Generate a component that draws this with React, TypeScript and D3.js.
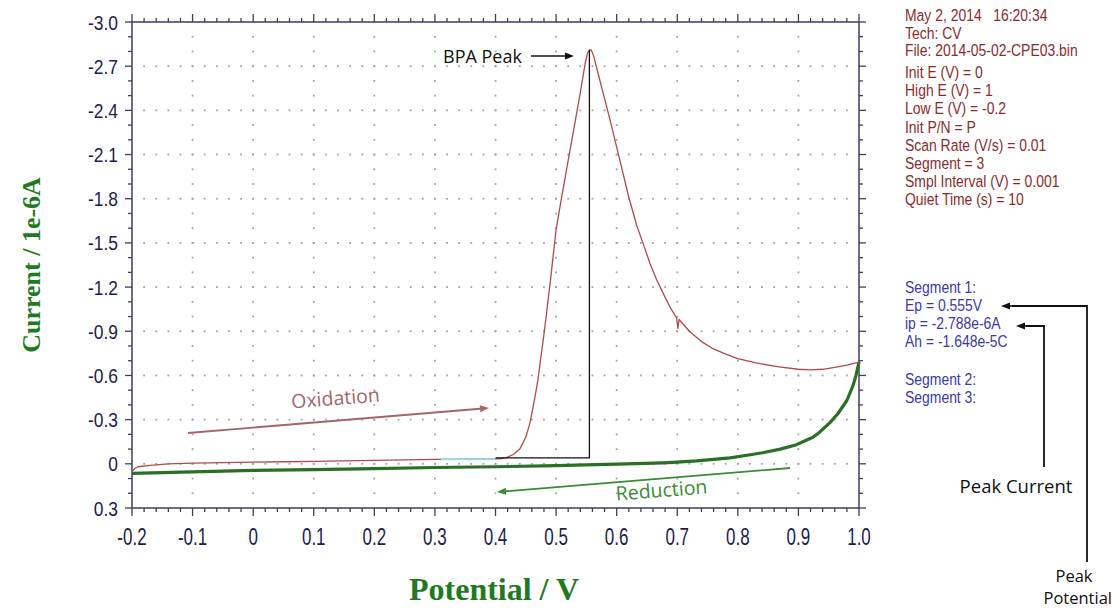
import React from 'react';
import * as d3 from 'd3';

// cyclic voltammogram, potential in V, current in 1e-6 A (axis inverted: negative up)
const oxidationScan = [
  [-0.2, 0.05], [-0.195, 0.03], [-0.19, 0.02], [-0.17, 0.01], [-0.14, 0.0], [-0.1, -0.005],
  [-0.05, -0.008], [0, -0.012], [0.05, -0.014], [0.1, -0.016], [0.15, -0.02], [0.2, -0.024],
  [0.25, -0.027], [0.3, -0.03], [0.35, -0.032], [0.4, -0.034], [0.41, -0.036], [0.42, -0.045],
  [0.43, -0.065], [0.44, -0.1], [0.45, -0.18], [0.457, -0.28], [0.465, -0.45], [0.47, -0.57],
  [0.48, -0.88], [0.49, -1.22], [0.5, -1.59], [0.51, -1.83], [0.52, -2.06], [0.53, -2.29],
  [0.54, -2.52], [0.548, -2.72], [0.552, -2.79], [0.555, -2.81], [0.558, -2.81], [0.562, -2.77],
  [0.57, -2.64], [0.58, -2.48], [0.59, -2.32], [0.6, -2.15], [0.61, -1.98], [0.62, -1.81],
  [0.633, -1.62], [0.645, -1.48], [0.655, -1.36], [0.666, -1.25], [0.68, -1.13], [0.69, -1.05],
  [0.699, -0.99], [0.701, -0.92], [0.703, -0.98], [0.72, -0.9], [0.74, -0.83], [0.76, -0.78],
  [0.78, -0.745], [0.8, -0.715], [0.83, -0.685], [0.865, -0.66], [0.9, -0.642], [0.92, -0.638],
  [0.94, -0.642], [0.96, -0.655], [0.98, -0.67], [1.0, -0.69]
];

const reductionScan = [
  [1.0, -0.69], [0.995, -0.6], [0.99, -0.53], [0.98, -0.43], [0.965, -0.34], [0.952, -0.28],
  [0.935, -0.215], [0.924, -0.18], [0.91, -0.155], [0.897, -0.13], [0.87, -0.1], [0.841, -0.075],
  [0.81, -0.055], [0.787, -0.04], [0.76, -0.03], [0.732, -0.02], [0.7, -0.012], [0.676, -0.007],
  [0.6, 0.002], [0.5, 0.012], [0.4, 0.02], [0.3, 0.025], [0.2, 0.033], [0.1, 0.04], [0, 0.045],
  [-0.1, 0.055], [-0.2, 0.065]
];

const baselineFit = [[0.31, -0.03], [0.4, -0.03]];
const peakMarker = [[0.4, -0.04], [0.555, -0.04], [0.555, -2.81]];

const xTickValues = [-0.2, -0.1, 0, 0.1, 0.2, 0.3, 0.4, 0.5, 0.6, 0.7, 0.8, 0.9, 1.0];
const xTickLabels = ['-0.2', '-0.1', '0', '0.1', '0.2', '0.3', '0.4', '0.5', '0.6', '0.7', '0.8', '0.9', '1.0'];
const yTickValues = [-3.0, -2.7, -2.4, -2.1, -1.8, -1.5, -1.2, -0.9, -0.6, -0.3, 0, 0.3];
const yTickLabels = ['-3.0', '-2.7', '-2.4', '-2.1', '-1.8', '-1.5', '-1.2', '-0.9', '-0.6', '-0.3', '0', '0.3'];

const headerLines = ['May 2, 2014   16:20:34', 'Tech: CV', 'File: 2014-05-02-CPE03.bin'];
const paramLines = [
  'Init E (V) = 0', 'High E (V) = 1', 'Low E (V) = -0.2', 'Init P/N = P',
  'Scan Rate (V/s) = 0.01', 'Segment = 3', 'Smpl Interval (V) = 0.001', 'Quiet Time (s) = 10'
];
const segment1Lines = ['Segment 1:', 'Ep = 0.555V', 'ip = -2.788e-6A', 'Ah = -1.648e-5C'];
const segmentOtherLines = ['Segment 2:', 'Segment 3:'];

const W = 1115;
const H = 611;
const left = 132, right = 859, top = 22, bottom = 508;

const x = d3.scaleLinear().domain([-0.2, 1.0]).range([left, right]);
const y = d3.scaleLinear().domain([-3.0, 0.3]).range([top, bottom]);

const minorX = d3.range(-10, 51).map(i => i / 50);
const minorY = d3.range(-30, 4).map(i => i / 10);

const axisColor = '#3e3e5e';
const labelColor = '#1d1d4d';
const sans = '"Liberation Sans", Arial, sans-serif';
const note = '"Open Sans", sans-serif';

const line = d3.line<number[]>().x(d => x(d[0])).y(d => y(d[1]));

const Arrow = ({ x1, y1, x2, y2, color, w = 1.6 }: any) => {
  const a = Math.atan2(y2 - y1, x2 - x1);
  const len = 9, half = 3.5;
  const bx = x2 - len * Math.cos(a), by = y2 - len * Math.sin(a);
  const p = [
    [x2, y2],
    [bx + half * Math.sin(a), by - half * Math.cos(a)],
    [bx - half * Math.sin(a), by + half * Math.cos(a)]
  ];
  return (
    <g>
      <line x1={x1} y1={y1} x2={bx} y2={by} stroke={color} strokeWidth={w} />
      <polygon points={p.map(q => q.join(',')).join(' ')} fill={color} />
    </g>
  );
};

export default function App() {
  const innerX = xTickValues.slice(1, -1);
  const innerY = yTickValues.slice(1, -1);
  return (
    <svg width={W} height={H} style={{ position: 'absolute', left: 0, top: 0, background: '#fff' }}>
      {/* dotted grid */}
      <g fill="#a2a2a2">
        {innerY.map(v => minorX.filter(m => m > -0.19 && m < 0.99).map(m => (
          <rect key={`h${v}_${m}`} x={x(m) - 0.9} y={y(v) - 0.9} width={1.8} height={1.8} />
        )))}
        {innerX.map(v => minorY.filter(m => m > -2.95 && m < 0.25).map(m => (
          <rect key={`v${v}_${m}`} x={x(v) - 0.9} y={y(m) - 0.9} width={1.8} height={1.8} />
        )))}
      </g>

      {/* frame */}
      <rect x={left} y={top} width={right - left} height={bottom - top} fill="none" stroke={axisColor} strokeWidth={1.5} />
      <g stroke={axisColor} strokeWidth={1.3}>
        {minorX.map((m, i) => {
          const major = i % 5 === 0;
          const l = major ? 8 : 4;
          return (
            <g key={`xt${i}`}>
              <line x1={x(m)} x2={x(m)} y1={bottom} y2={bottom + l} />
              <line x1={x(m)} x2={x(m)} y1={top} y2={top - l} />
            </g>
          );
        })}
        {minorY.map((m, i) => {
          const major = i % 3 === 0;
          const l = major ? 7 : 4;
          return (
            <g key={`yt${i}`}>
              <line x1={left} x2={left - l} y1={y(m)} y2={y(m)} />
              <line x1={right} x2={right + l} y1={y(m)} y2={y(m)} />
            </g>
          );
        })}
      </g>

      {/* tick labels (condensed like the instrument's export) */}
      <g fill={labelColor} fontFamily={sans}>
        {xTickValues.map((v, i) => (
          <text key={`xl${i}`} transform={`translate(${x(v)},${bottom + 37}) scale(0.74,1)`}
            textAnchor="middle" fontSize={23}>{xTickLabels[i]}</text>
        ))}
        {yTickValues.map((v, i) => (
          <text key={`yl${i}`} transform={`translate(${left - 14},${y(v)}) scale(0.83,1)`}
            dy="0.36em" textAnchor="end" fontSize={21}>{yTickLabels[i]}</text>
        ))}
      </g>

      {/* axis titles */}
      <text x={494} y={600} textAnchor="middle" fill="#1f7a1f" fontFamily='"Liberation Serif", serif'
        fontWeight="bold" fontSize={32}>Potential / V</text>
      <text transform="translate(40,265) rotate(-90)" textAnchor="middle" fill="#1f7a1f"
        fontFamily='"Liberation Serif", serif' fontWeight="bold" fontSize={26}>Current / 1e-6A</text>

      {/* curves */}
      <path d={line(reductionScan) || ''} fill="none" stroke="#2b6e26" strokeWidth={3.2} strokeLinejoin="round" />
      <path d={line(oxidationScan) || ''} fill="none" stroke="#b04a4a" strokeWidth={1.3} strokeLinejoin="round" />
      <path d={line(baselineFit) || ''} fill="none" stroke="#8fe0f0" strokeWidth={1.6} />
      <path d={line(peakMarker) || ''} fill="none" stroke="#111" strokeWidth={1.3} />

      {/* annotations */}
      <text x={443} y={63} fontFamily={note} fontSize={18} fill="#111">BPA Peak</text>
      <Arrow x1={531} y1={56} x2={574} y2={56} color="#111" w={1.6} />

      <Arrow x1={188} y1={433} x2={489} y2={408} color="#a56565" w={1.8} />
      <text transform="translate(336,405) rotate(-4.5)" textAnchor="middle" fontFamily={note} fontSize={19.5} fill="#a56565">Oxidation</text>

      <Arrow x1={790} y1={468} x2={497} y2={492} color="#3a8c32" w={1.8} />
      <text transform="translate(662,497) rotate(-4.5)" textAnchor="middle" fontFamily={note} fontSize={19.5} fill="#3a8c32">Reduction</text>

      {/* info panel */}
      <g fontFamily={sans} fontSize={17} fill="#8a2c2c">
        {headerLines.map((t, i) => (
          <text key={`h${i}`} transform={`translate(905,${21 + i * 17.5}) scale(0.82,1)`} style={{ whiteSpace: 'pre' }}>{t}</text>
        ))}
        {paramLines.map((t, i) => (
          <text key={`p${i}`} transform={`translate(905,${78 + i * 18.2}) scale(0.82,1)`}>{t}</text>
        ))}
      </g>
      <g fontFamily={sans} fontSize={17} fill="#3a3aa5">
        {segment1Lines.map((t, i) => (
          <text key={`s${i}`} transform={`translate(905,${293 + i * 18}) scale(0.82,1)`}>{t}</text>
        ))}
        {segmentOtherLines.map((t, i) => (
          <text key={`o${i}`} transform={`translate(905,${385 + i * 18}) scale(0.82,1)`}>{t}</text>
        ))}
      </g>

      {/* callouts */}
      <g stroke="#111" strokeWidth={1.8} fill="none">
        <polyline points="1044,467 1044,326 1026,326" />
        <polyline points="1087,562 1087,306 1012,306" />
      </g>
      <Arrow x1={1030} y1={326} x2={1016} y2={326} color="#111" />
      <Arrow x1={1015} y1={306} x2={1001} y2={306} color="#111" />
      <g fontFamily={note} fill="#111">
        <text x={1016} y={493} fontSize={18.5} textAnchor="middle">Peak Current</text>
        <text x={1074} y={582} fontSize={16.5} textAnchor="middle">Peak</text>
        <text x={1112} y={604} fontSize={16.5} textAnchor="end">Potential</text>
      </g>
    </svg>
  );
}
